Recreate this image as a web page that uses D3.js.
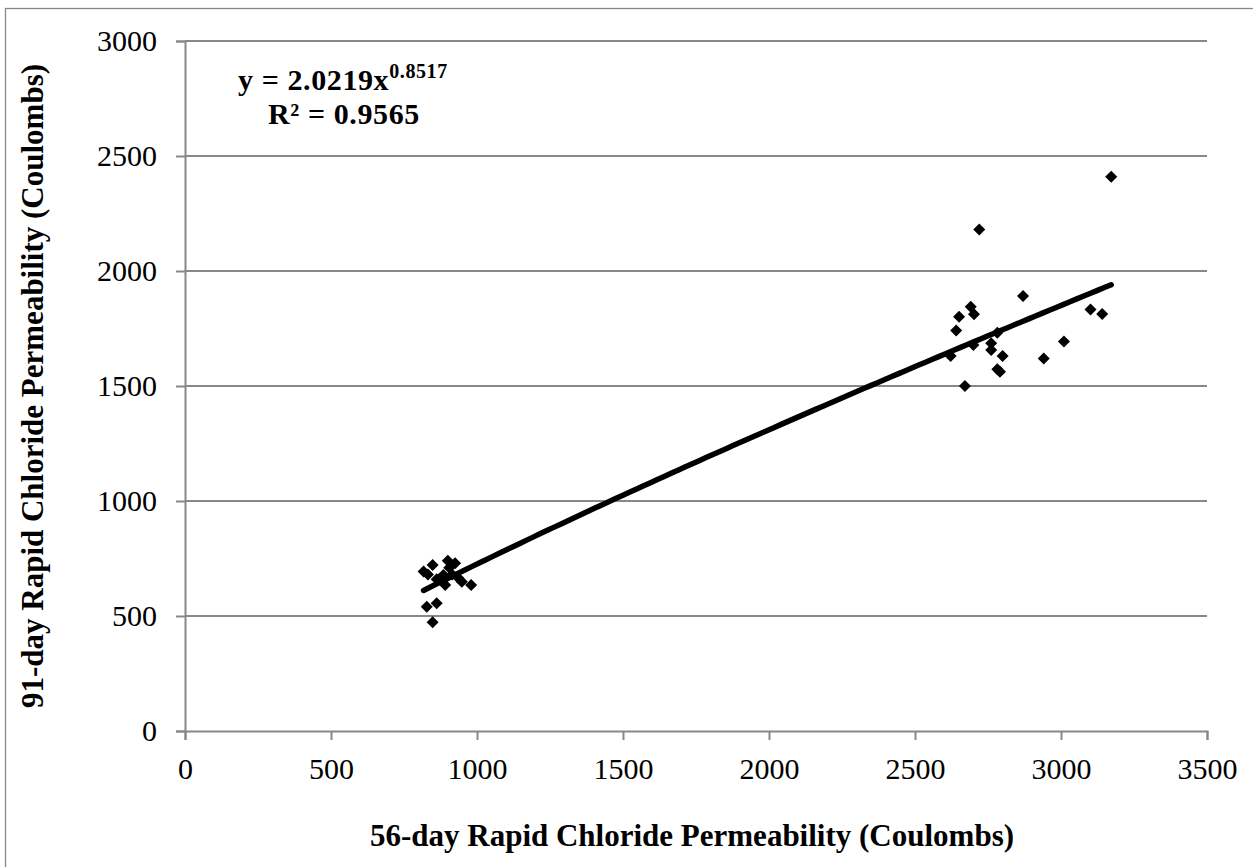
<!DOCTYPE html>
<html>
<head>
<meta charset="utf-8">
<script src="https://cdn.jsdelivr.net/npm/d3@7/dist/d3.min.js"></script>
<style>
  html, body { margin: 0; padding: 0; background: #fff; }
  svg { display: block; }
  text { font-family: "Liberation Serif", "Times New Roman", serif; fill: #000; }
</style>
</head>
<body>
<svg id="chart" width="1253" height="867"></svg>
<script>
// 56-day RCP (x) vs 91-day RCP (y), in coulombs
const rcp56 = [
  817, 832, 848, 862, 874, 885, 891, 900, 905, 915, 925, 937, 948, 980,
  828, 862, 848,
  2622, 2641, 2651, 2671, 2691, 2700, 2702, 2720, 2761, 2761, 2782, 2782,
  2791, 2800, 2870, 2941, 3010, 3101, 3141, 3172
];
const rcp91 = [
  693, 680, 722, 660, 664, 678, 635, 740, 710, 680, 729, 664, 649, 635,
  540, 555, 473,
  1630, 1741, 1801, 1500, 1845, 1678, 1812, 2180, 1686, 1657, 1732, 1573,
  1562, 1630, 1891, 1620, 1693, 1833, 1813, 2410
];

// power-law trendline  y = a * x^b
const fitA = 2.0219;
const fitB = 0.8517;
const fitR2 = 0.9565;

const xTicks = [0, 500, 1000, 1500, 2000, 2500, 3000, 3500];
const yTicks = [0, 500, 1000, 1500, 2000, 2500, 3000];

const svg = d3.select("#chart");
const plot = { left: 185, right: 1207, top: 41, bottom: 731 };

const x = d3.scaleLinear().domain([0, 3500]).range([plot.left, plot.right]);
const y = d3.scaleLinear().domain([0, 3000]).range([plot.bottom, plot.top]);

// outer chart frame
svg.append("rect")
  .attr("x", 5.5).attr("y", 8.5)
  .attr("width", 1260).attr("height", 870)
  .attr("fill", "none").attr("stroke", "#888").attr("stroke-width", 1.3);

// horizontal gridlines
svg.append("g")
  .selectAll("line")
  .data(yTicks.filter(d => d > 0))
  .join("line")
  .attr("x1", plot.left).attr("x2", plot.right)
  .attr("y1", d => y(d)).attr("y2", d => y(d))
  .attr("stroke", "#888").attr("stroke-width", 2);

// y axis
const yAxis = svg.append("g")
  .attr("transform", `translate(${plot.left},0)`)
  .call(d3.axisLeft(y).tickValues(yTicks).tickSize(9).tickPadding(19).tickFormat(d3.format("d")));
yAxis.select(".domain").attr("stroke", "#888").attr("stroke-width", 2);
yAxis.selectAll(".tick line").attr("stroke", "#888").attr("stroke-width", 2);
yAxis.selectAll("text")
  .attr("font-size", 30)
  .attr("font-family", "'Liberation Serif', 'Times New Roman', serif")
  .attr("fill", "#000");

// x axis
const xAxis = svg.append("g")
  .attr("transform", `translate(0,${plot.bottom})`)
  .call(d3.axisBottom(x).tickValues(xTicks).tickSize(9).tickPadding(18).tickFormat(d3.format("d")));
xAxis.select(".domain").attr("stroke", "#888").attr("stroke-width", 2);
xAxis.selectAll(".tick line").attr("stroke", "#888").attr("stroke-width", 2);
xAxis.selectAll("text")
  .attr("font-size", 30)
  .attr("font-family", "'Liberation Serif', 'Times New Roman', serif")
  .attr("fill", "#000");

// trendline over the range of the data
const xMin = d3.min(rcp56), xMax = d3.max(rcp56);
const fitPts = d3.range(0, 101).map(i => {
  const xv = xMin + (xMax - xMin) * i / 100;
  return [xv, fitA * Math.pow(xv, fitB)];
});
svg.append("path")
  .datum(fitPts)
  .attr("fill", "none")
  .attr("stroke", "#000")
  .attr("stroke-width", 5.5)
  .attr("stroke-linecap", "round")
  .attr("d", d3.line().x(d => x(d[0])).y(d => y(d[1])));

// data markers
const diamond = d3.symbol().type(d3.symbolDiamond2).size(92);
svg.append("g")
  .selectAll("path")
  .data(rcp56.map((v, i) => [v, rcp91[i]]))
  .join("path")
  .attr("transform", d => `translate(${x(d[0])},${y(d[1])})`)
  .attr("d", diamond)
  .attr("fill", "#000");

// trendline equation and R²
const eq = svg.append("text")
  .attr("x", 238).attr("y", 90)
  .attr("font-size", 30).attr("font-weight", "bold")
  .attr("letter-spacing", 0.6);
eq.append("tspan").text(`y = ${fitA}x`);
eq.append("tspan").attr("dy", -12).attr("font-size", 20).text(fitB);
svg.append("text")
  .attr("x", 268).attr("y", 124)
  .attr("font-size", 30).attr("font-weight", "bold")
  .attr("letter-spacing", 0.6)
  .text(`R² = ${fitR2}`);

// axis titles
svg.append("text")
  .attr("x", 692).attr("y", 846)
  .attr("text-anchor", "middle")
  .attr("font-size", 31).attr("font-weight", "bold")
  .text("56-day Rapid Chloride Permeability (Coulombs)");

svg.append("text")
  .attr("transform", "translate(43,386) rotate(-90)")
  .attr("text-anchor", "middle")
  .attr("font-size", 31).attr("font-weight", "bold")
  .text("91-day Rapid Chloride Permeability (Coulombs)");
</script>
</body>
</html>
